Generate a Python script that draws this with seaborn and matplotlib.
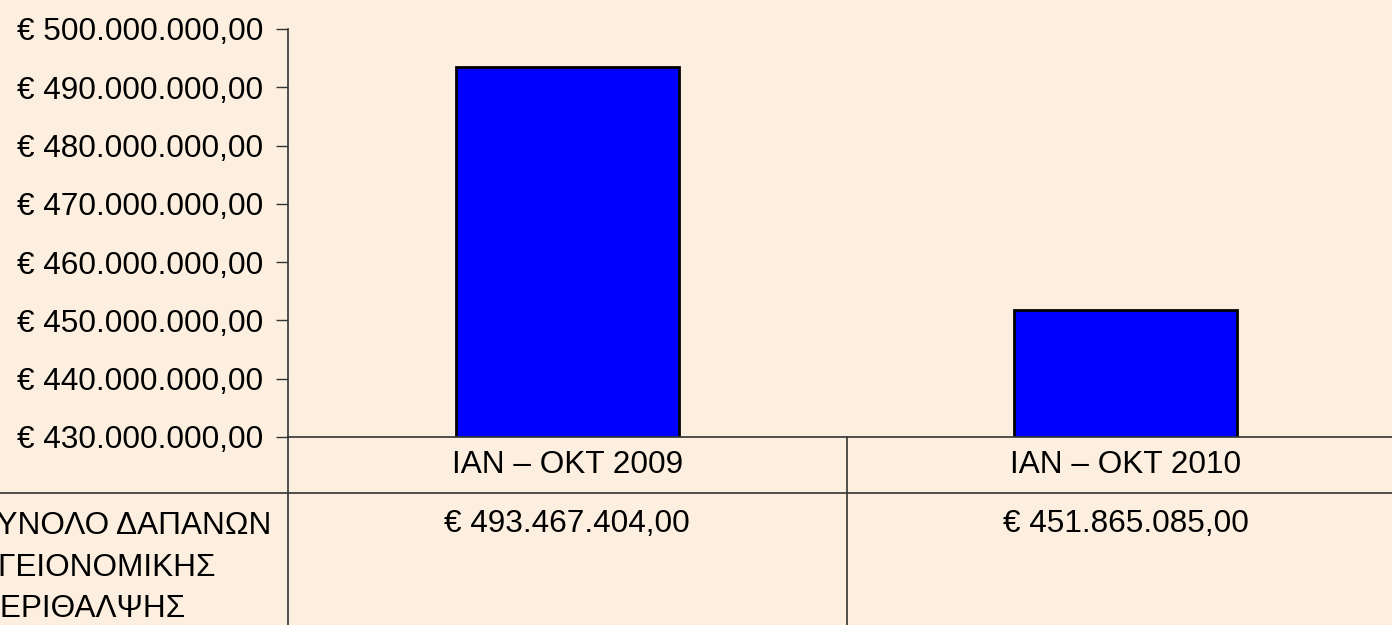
import pandas as pd
import matplotlib.pyplot as plt
import matplotlib.ticker as mticker
import seaborn as sns

categories = ['IAN – OKT 2009', 'IAN – OKT 2010']
values = [493467404.00, 451865085.00]
row_label = 'ΣΥΝΟΛΟ ΔΑΠΑΝΩΝ\nΥΓΕΙΟΝΟΜΙΚΗΣ\nΠΕΡΙΘΑΛΨΗΣ'
y_ticks = [430e6, 440e6, 450e6, 460e6, 470e6, 480e6, 490e6, 500e6]

bg = '#FDEFE0'
fs = 22.7

sns.set_theme(style='white')
plt.rcParams['font.family'] = ['Liberation Sans', 'DejaVu Sans']
plt.rcParams['text.color'] = 'black'
plt.rcParams['xtick.color'] = 'black'
plt.rcParams['ytick.color'] = 'black'

df = pd.DataFrame({'period': categories, 'amount': values})


def euro(v):
    s = f'{v:,.2f}'.replace(',', 'X').replace('.', ',').replace('X', '.')
    return '€ ' + s


fig = plt.figure(figsize=(13.92, 6.25), dpi=100, facecolor=bg)
ax = fig.add_axes([288 / 1392, 188 / 625, 1117 / 1392, 408 / 625])
ax.set_facecolor(bg)

sns.barplot(data=df, x='period', y='amount', color='#0000FF', saturation=1,
            width=0.4, edgecolor='black', linewidth=2, ax=ax)

ax.set_xlim(-0.5, 1.5)
ax.set_ylim(430e6, 500e6)
ax.set_yticks(y_ticks)
ax.yaxis.set_major_formatter(mticker.FuncFormatter(lambda v, p: euro(v)))
ax.tick_params(axis='y', left=True, length=9, width=1, color='#333333',
               labelcolor='black', labelsize=fs, pad=9)
ax.tick_params(axis='x', bottom=False, labelcolor='black', labelsize=fs, pad=3.6)
ax.set_xlabel('')
ax.set_ylabel('')

for side in ['top', 'right']:
    ax.spines[side].set_visible(False)
for side in ['left', 'bottom']:
    ax.spines[side].set_color('#333333')
    ax.spines[side].set_linewidth(1.2)

# table below the plot
bottom_y = -0.5
ax.plot([0, 0], [0, bottom_y], transform=ax.transAxes, color='#333333',
        lw=1.2, clip_on=False)
trans = ax.get_xaxis_transform()
ax.plot([0.5, 0.5], [0, bottom_y], transform=trans, color='#333333',
        lw=1.2, clip_on=False)
fig.add_artist(plt.Line2D([0, 1], [132 / 625, 132 / 625], color='#333333', lw=1.2))

for i, v in enumerate(values):
    ax.text(i, (437 - 532) / 408, euro(v), transform=trans, ha='center',
            va='baseline', fontsize=fs, color='black', clip_on=False)

fig.text(-23 / 1392, 1 - 511 / 625, row_label, ha='left', va='top',
         fontsize=fs, linespacing=1.5, color='black')

plt.savefig('out.png', dpi=100, facecolor=bg)
plt.close()
